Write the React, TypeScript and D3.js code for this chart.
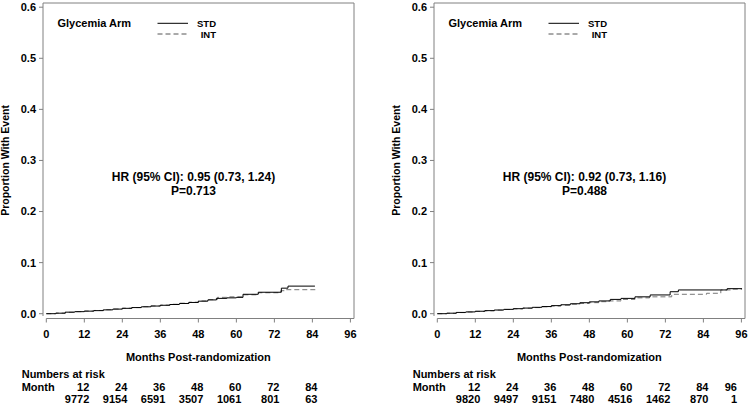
import React from "react";
import * as d3 from "d3";

// ---------- data ----------
const yTicks = [0, 0.1, 0.2, 0.3, 0.4, 0.5, 0.6];
const xTicks = [0, 12, 24, 36, 48, 60, 72, 84, 96];

// Left panel
const leftStdMonths = [0, 3, 6, 9, 12, 15, 18, 21, 24, 27, 30, 33, 36, 39, 42, 45, 48, 51, 53.7, 57, 60, 62.1, 66.9, 74.2, 76.3, 84.8];
const leftStdValues = [0, 0.001, 0.003, 0.004, 0.005, 0.006, 0.0075, 0.009, 0.0105, 0.012, 0.0135, 0.015, 0.0165, 0.018, 0.02, 0.022, 0.0245, 0.027, 0.03, 0.031, 0.032, 0.038, 0.042, 0.05, 0.054, 0.054];
const leftIntMonths = [0, 3, 6, 9, 12, 15, 18, 21, 24, 27, 30, 33, 36, 39, 42, 45, 48, 51, 54, 57, 62, 67, 74, 75.5, 85.3];
const leftIntValues = [0, 0.0012, 0.0028, 0.004, 0.0052, 0.0063, 0.0078, 0.0092, 0.0108, 0.012, 0.0137, 0.0152, 0.0168, 0.0185, 0.0205, 0.0225, 0.025, 0.0275, 0.032, 0.033, 0.037, 0.041, 0.045, 0.047, 0.047];
const leftRiskMonths = [12, 24, 36, 48, 60, 72, 84];
const leftRiskCounts = [9772, 9154, 6591, 3507, 1061, 801, 63];
const leftHR = "HR (95% CI): 0.95 (0.73, 1.24)";
const leftP = "P=0.713";

// Right panel
const rightStdMonths = [0, 3, 6, 9, 12, 15, 18, 21, 24, 27, 30, 33, 36, 39, 42, 45, 48, 51, 54.6, 58, 62.4, 67.2, 73.5, 76.1, 91.5, 96.2];
const rightStdValues = [0, 0.001, 0.0025, 0.0035, 0.0048, 0.006, 0.0072, 0.0085, 0.0098, 0.011, 0.0125, 0.014, 0.0158, 0.0175, 0.0195, 0.0215, 0.0232, 0.025, 0.028, 0.03, 0.033, 0.0367, 0.043, 0.0465, 0.049, 0.049];
const rightIntMonths = [0, 3, 6, 9, 12, 15, 18, 21, 24, 27, 30, 33, 36, 39, 42, 45, 48, 51, 54, 58, 62.4, 67, 74, 85, 89.5, 93, 96.2];
const rightIntValues = [0, 0.0008, 0.0022, 0.0033, 0.0045, 0.0057, 0.007, 0.0082, 0.0095, 0.0108, 0.012, 0.0135, 0.015, 0.0165, 0.0185, 0.02, 0.0216, 0.0235, 0.025, 0.028, 0.031, 0.033, 0.038, 0.04, 0.0465, 0.048, 0.048];
const rightRiskMonths = [12, 24, 36, 48, 60, 72, 84, 96];
const rightRiskCounts = [9820, 9497, 9151, 7480, 4516, 1462, 870, 1];
const rightHR = "HR (95% CI): 0.92 (0.73, 1.16)";
const rightP = "P=0.488";

const FONT = "'Liberation Sans', Arial, Helvetica, sans-serif";
const FRAME = "#808080";

type PanelProps = {
  axisX: number;
  right: number;
  stdM: number[];
  stdV: number[];
  intM: number[];
  intV: number[];
  riskM: number[];
  riskN: number[];
  hr: string;
  p: string;
};

function Panel({ axisX, right, stdM, stdV, intM, intV, riskM, riskN, hr, p }: PanelProps) {
  const top = 3;
  const bottom = 318.5;
  const x = d3.scaleLinear().domain([0, 96]).range([axisX + 3.3, right - 3.6]);
  const y = d3.scaleLinear().domain([0, 0.6]).range([313.7, 7.2]);
  const line = d3
    .line<[number, number]>()
    .x((d) => x(d[0]))
    .y((d) => y(d[1]))
    .curve(d3.curveStepAfter);
  const std = line(stdM.map((m, i) => [m, stdV[i]]) as [number, number][]) || "";
  const int = line(intM.map((m, i) => [m, intV[i]]) as [number, number][]) || "";
  const left = axisX;
  const center = axisX + 150.5;
  const colX = (m: number) => Math.min(x(m) + 5, right - 8);
  return (
    <g fontFamily={FONT} fontWeight="bold" fill="#000">
      {/* frame */}
      <line x1={left} x2={right} y1={top} y2={top} stroke={FRAME} />
      <line x1={left} x2={left} y1={top} y2={316} stroke={FRAME} />
      <line x1={right} x2={right} y1={top} y2={bottom} stroke={FRAME} />
      <line x1={x(0)} x2={right} y1={bottom} y2={bottom} stroke={FRAME} />
      {/* y ticks */}
      {yTicks.map((t) => (
        <g key={"y" + t}>
          <line x1={left - 4} x2={left} y1={y(t)} y2={y(t)} stroke={FRAME} />
          <text x={left - 7} y={y(t)} dy="0.36em" textAnchor="end" fontSize={11}>
            {d3.format(".1f")(t)}
          </text>
        </g>
      ))}
      {/* x ticks */}
      {xTicks.map((t) => (
        <g key={"x" + t}>
          <line x1={x(t)} x2={x(t)} y1={bottom} y2={bottom + 4} stroke={FRAME} />
          <text x={x(t)} y={337.5} textAnchor="middle" fontSize={11}>
            {t}
          </text>
        </g>
      ))}
      {/* axis titles */}
      <text
        transform={`translate(${left - 34},${y(0.3)}) rotate(-90)`}
        textAnchor="middle"
        fontSize={10.5}
      >
        Proportion With Event
      </text>
      <text x={x(48)} y={361} textAnchor="middle" fontSize={11}>
        Months Post-randomization
      </text>
      {/* legend */}
      <text x={left + 14.5} y={27} fontSize={11}>
        Glycemia Arm
      </text>
      <line x1={left + 114.5} x2={left + 145} y1={23.3} y2={23.3} stroke="#000" strokeWidth={1} />
      <line x1={left + 114.5} x2={left + 145} y1={34} y2={34} stroke="#555" strokeWidth={1} strokeDasharray="5,3" />
      <text x={left + 173} y={27.3} textAnchor="end" fontSize={9.5}>
        STD
      </text>
      <text x={left + 173} y={38.3} textAnchor="end" fontSize={9.5}>
        INT
      </text>
      {/* HR */}
      <text x={center} y={180.5} textAnchor="middle" fontSize={12}>
        {hr}
      </text>
      <text x={center} y={195} textAnchor="middle" fontSize={12}>
        {p}
      </text>
      {/* curves */}
      <path d={int} fill="none" stroke="#777" strokeWidth={1} strokeDasharray="5,3" />
      <path d={std} fill="none" stroke="#000" strokeWidth={1} />
      {/* risk table */}
      <text x={left - 21.3} y={378} fontSize={11}>
        Numbers at risk
      </text>
      <text x={left - 21.3} y={390.5} fontSize={11}>
        Month
      </text>
      {riskM.map((m, i) => (
        <g key={"r" + m}>
          <text x={colX(m)} y={390.5} textAnchor="end" fontSize={11}>
            {m}
          </text>
          <text x={colX(m)} y={403} textAnchor="end" fontSize={11}>
            {riskN[i]}
          </text>
        </g>
      ))}
    </g>
  );
}

export default function App() {
  return (
    <svg
      width={750}
      height={406}
      style={{ position: "absolute", left: 0, top: 0, background: "#fff" }}
    >
      <rect width={750} height={406} fill="#fff" />
      <Panel
        axisX={43}
        right={354}
        stdM={leftStdMonths}
        stdV={leftStdValues}
        intM={leftIntMonths}
        intV={leftIntValues}
        riskM={leftRiskMonths}
        riskN={leftRiskCounts}
        hr={leftHR}
        p={leftP}
      />
      <Panel
        axisX={434}
        right={745}
        stdM={rightStdMonths}
        stdV={rightStdValues}
        intM={rightIntMonths}
        intV={rightIntValues}
        riskM={rightRiskMonths}
        riskN={rightRiskCounts}
        hr={rightHR}
        p={rightP}
      />
    </svg>
  );
}
